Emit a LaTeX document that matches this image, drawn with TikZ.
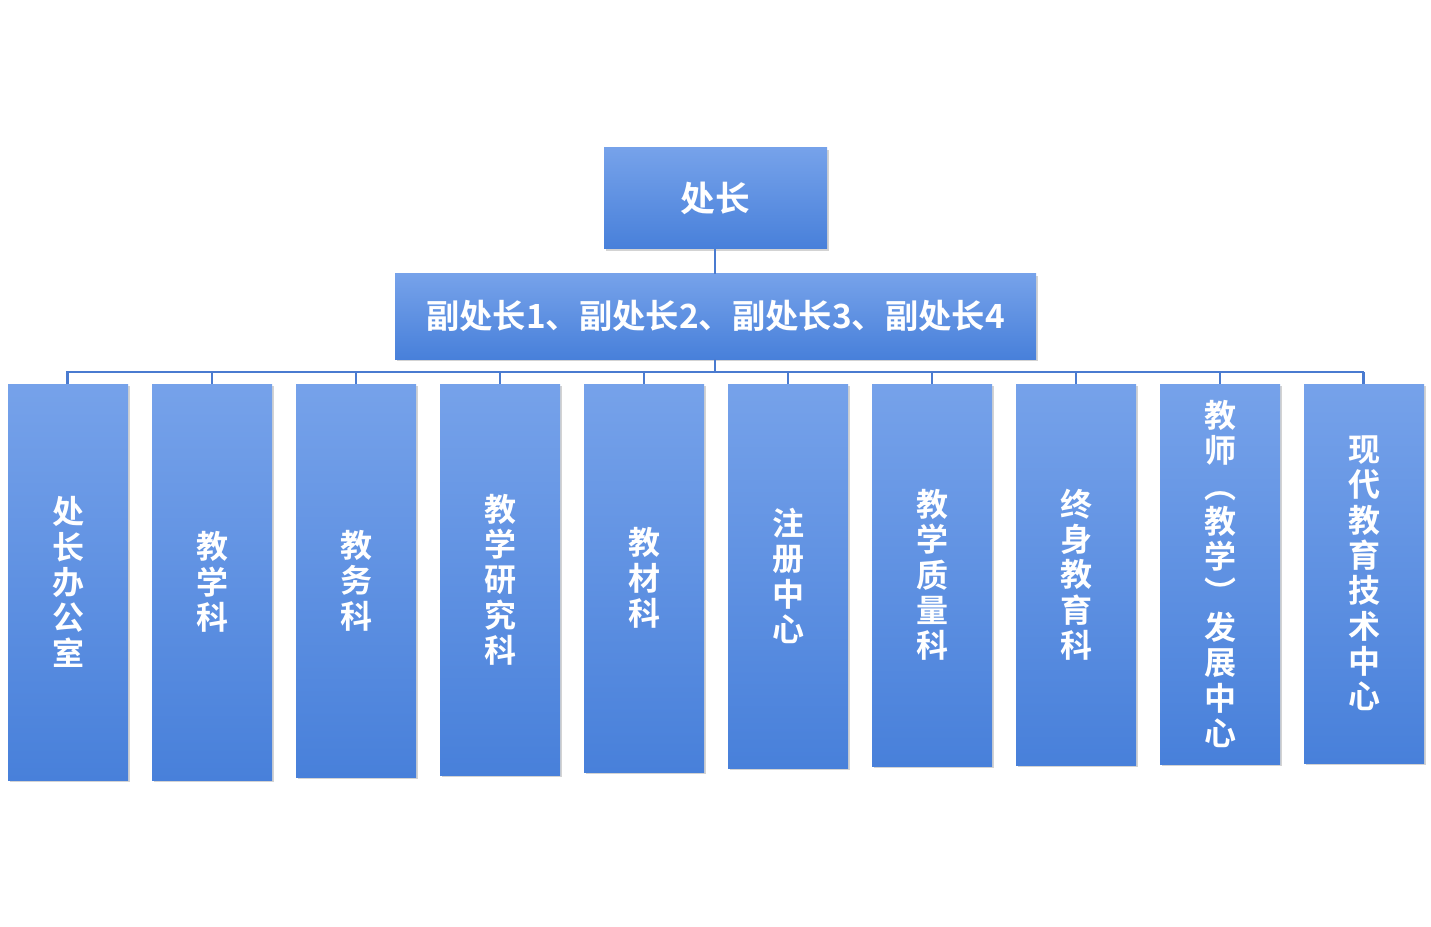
\documentclass[tikz,border=0pt]{standalone}
\usepackage{fontspec}
\setmainfont{Noto Sans CJK SC}[BoldFont={* Bold}]
\usetikzlibrary{shadows}
\definecolor{topc}{HTML}{76A2EA}
\definecolor{botc}{HTML}{4880DA}
\definecolor{linec}{HTML}{4A7BD0}
\tikzset{
  box/.style={draw=none,top color=topc,bottom color=botc,drop shadow={shadow xshift=1.5pt,shadow yshift=-1.5pt,opacity=0.35},text=white,font=\bfseries},
  conn/.style={draw=linec,line width=1.2pt}
}
\begin{document}
\begin{tikzpicture}[x=0.75pt,y=-0.75pt]
\useasboundingbox (0,0) rectangle (1431,927);
\path[box] (604,148) rectangle (827,249);
\node[text=white,font=\fontsize{26}{28}\selectfont\bfseries] (top) at (715.5,198) {处长};
\path[box] (395,274) rectangle (1036,359);
\node[text=white,font=\fontsize{25}{28}\selectfont\bfseries] (sub) at (715.5,316) {副处长1、副处长2、副处长3、副处长4};
\coordinate (t) at (715,249);
\coordinate (s1) at (715,274);
\coordinate (s2) at (715,359);
\coordinate (h) at (715,372);
\draw[conn] (t) -- (s1);
\draw[conn] (s2) -- (h);
\draw[conn] (67,384) -- (67,372) -- (1363,372) -- (1363,384);
\foreach \i/\b/\txt in {0/780/处\\长\\办\\公\\室,1/780/教\\学\\科,2/777/教\\务\\科,3/775/教\\学\\研\\究\\科,4/772/教\\材\\科,5/768/注\\册\\中\\心,6/766/教\\学\\质\\量\\科,7/765/终\\身\\教\\育\\科,8/764/教\\师\\︵\\教\\学\\︶\\发\\展\\中\\心,9/763/现\\代\\教\\育\\技\\术\\中\\心}{
  \pgfmathsetmacro\xl{8+144*\i}
  \pgfmathsetmacro\xc{\xl+60}
  \pgfmathsetmacro\yc{(384+\b)/2}
  \draw[conn] (\xc,372) -- (\xc,384);
  \path[box] (\xl,384) rectangle (\xl+120,\b);
  \node[text=white,align=center,font=\fontsize{24}{26.5}\selectfont\bfseries] (n\i) at (\xc,\yc) {\txt};
}
\end{tikzpicture}
\end{document}
